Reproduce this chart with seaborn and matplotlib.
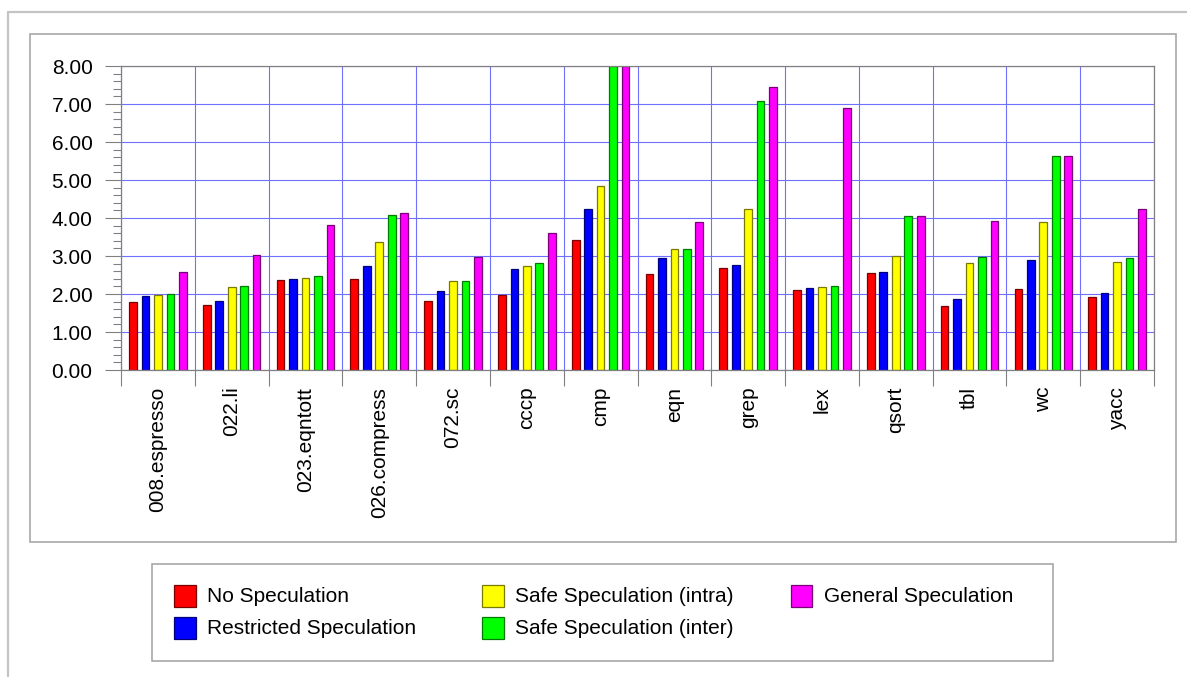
import numpy as np
import pandas as pd
import matplotlib
matplotlib.use("Agg")
import matplotlib.pyplot as plt
from matplotlib.patches import Rectangle
from matplotlib.lines import Line2D
from matplotlib.ticker import MultipleLocator, FixedLocator
import seaborn as sns

# Benchmarks and speedups for each speculation policy
benchmarks = ["008.espresso", "022.li", "023.eqntott", "026.compress", "072.sc",
              "cccp", "cmp", "eqn", "grep", "lex", "qsort", "tbl", "wc", "yacc"]
policies = ["No Speculation", "Restricted Speculation", "Safe Speculation (intra)",
            "Safe Speculation (inter)", "General Speculation"]

no_spec = [1.79, 1.71, 2.37, 2.39, 1.82, 1.97, 3.41, 2.53, 2.68, 2.11, 2.54, 1.69, 2.13, 1.92]
restricted = [1.96, 1.81, 2.39, 2.74, 2.08, 2.66, 4.25, 2.95, 2.76, 2.15, 2.57, 1.87, 2.90, 2.02]
safe_intra = [1.97, 2.18, 2.42, 3.37, 2.33, 2.75, 4.84, 3.18, 4.25, 2.19, 3.01, 2.82, 3.89, 2.84]
safe_inter = [2.00, 2.22, 2.47, 4.07, 2.33, 2.81, 8.00, 3.18, 7.08, 2.20, 4.05, 2.97, 5.64, 2.94]
general = [2.58, 3.03, 3.82, 4.13, 2.97, 3.61, 8.00, 3.89, 7.45, 6.89, 4.05, 3.93, 5.64, 4.24]

y_ticks = [0, 1, 2, 3, 4, 5, 6, 7, 8]

fills = ["#ff0000", "#0000ff", "#ffff00", "#00ff00", "#ff00ff"]
edges = ["#7a0000", "#00007a", "#7a7a00", "#007a00", "#7a007a"]

series = [no_spec, restricted, safe_intra, safe_inter, general]
df = pd.DataFrame({
    "benchmark": np.tile(benchmarks, len(policies)),
    "policy": np.repeat(policies, len(benchmarks)),
    "speedup": np.concatenate(series),
})

sns.set_style("white")
plt.rcParams["font.family"] = ["Liberation Sans", "DejaVu Sans"]

W, H = 1187, 677
fig = plt.figure(figsize=(W / 100, H / 100), dpi=100)
fig.patch.set_facecolor("white")


def fx(px):
    return px / W


def fy(py):
    return 1 - py / H


# decorative frames around the chart
frame_kw = dict(transform=fig.transFigure, color="#c4c4c4", lw=1.6)
fig.add_artist(Line2D([fx(7.5), fx(7.5)], [fy(11.5), fy(677)], **frame_kw))
fig.add_artist(Line2D([fx(7.5), fx(1187)], [fy(11.5), fy(11.5)], **frame_kw))
fig.add_artist(Rectangle((fx(29.5), fy(541.5)), fx(1175.5) - fx(29.5), fy(33.5) - fy(541.5),
                         transform=fig.transFigure, fill=False, ec="#a8a8a8", lw=1.2))

ax = fig.add_axes([fx(121), fy(370), fx(1154) - fx(121), fy(66) - fy(370)])

sns.barplot(data=df, x="benchmark", y="speedup", hue="policy", order=benchmarks,
            hue_order=policies, palette=fills, width=0.845, gap=0.385,
            errorbar=None, legend=False, saturation=1, linewidth=0.9, ax=ax)

for cont, ec in zip(ax.containers, edges):
    for bar in cont:
        bar.set_edgecolor(ec)
        bar.set_linewidth(0.9)

ax.set_xlim(-0.5, len(benchmarks) - 0.5)
ax.set_ylim(0, 8)
ax.set_xlabel("")
ax.set_ylabel("")

# y axis: labelled integer ticks plus fine minor ticks
ax.yaxis.set_major_locator(FixedLocator(y_ticks))
ax.set_yticklabels([f"{v:.2f}" for v in y_ticks])
ax.yaxis.set_minor_locator(MultipleLocator(0.2))

# x axis: tick marks at group boundaries, labels at group centres
ax.xaxis.set_major_locator(FixedLocator(np.arange(-0.5, len(benchmarks), 1.0)))
ax.xaxis.set_minor_locator(FixedLocator(np.arange(len(benchmarks))))
ax.set_xticklabels([], minor=False)
ax.set_xticklabels(benchmarks, minor=True, rotation=90)

tick_c = "#808080"
ax.tick_params(axis="y", which="major", direction="out", length=11.5, width=0.8,
               color=tick_c, pad=9, labelsize=15, labelcolor="#000000", left=True)
ax.tick_params(axis="y", which="minor", direction="out", length=5.5, width=0.8,
               color=tick_c, left=True)
ax.tick_params(axis="x", which="major", direction="out", length=11.5, width=0.8,
               color=tick_c, bottom=True)
ax.tick_params(axis="x", which="minor", length=0, pad=12, labelsize=15,
               labelcolor="#000000", bottom=True)

ax.set_axisbelow(True)
grid_c = "#7070ff"
ax.grid(axis="y", which="major", color=grid_c, lw=0.8)
ax.grid(axis="x", which="major", color=grid_c, lw=0.8)
ax.grid(which="minor", visible=False)

for sp in ax.spines.values():
    sp.set_visible(True)
    sp.set_color(tick_c)
    sp.set_linewidth(0.9)

# legend panel
fig.add_artist(Rectangle((fx(152.5), fy(660.5)), fx(1052.5) - fx(152.5), fy(563.5) - fy(660.5),
                         transform=fig.transFigure, fill=False, ec="#a0a0a0", lw=1.1))
col_x = [174, 482, 791]
row_y = [585, 617]
for i, (name, fc, ec) in enumerate(zip(policies, fills, edges)):
    col, row = divmod(i, 2)
    x0, y0 = col_x[col], row_y[row]
    fig.add_artist(Rectangle((fx(x0), fy(y0 + 21.5)), fx(21.5), 21.5 / H,
                             transform=fig.transFigure, fc=fc, ec=ec, lw=0.9))
    fig.text(fx(x0 + 33), fy(y0 + 11.5), name, fontsize=15, color="#000000",
             ha="left", va="center")

fig.savefig("out.png", dpi=100)
